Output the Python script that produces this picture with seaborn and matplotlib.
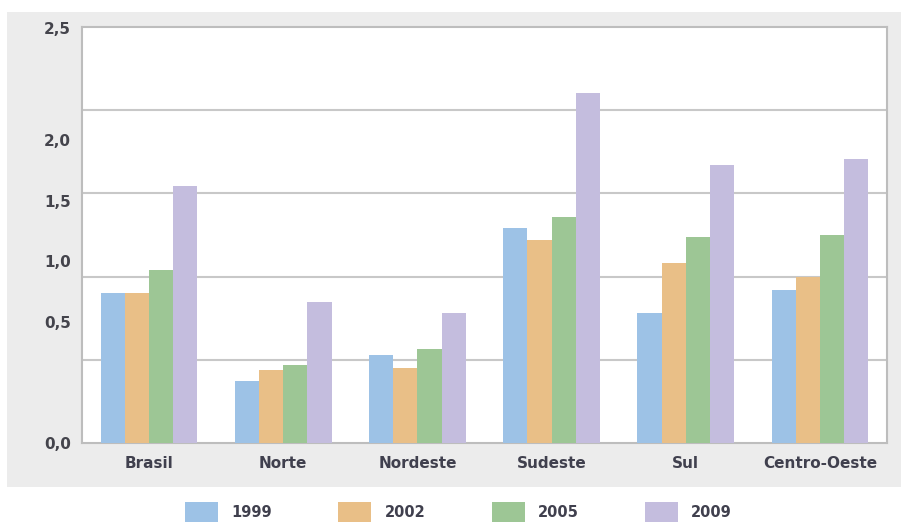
import matplotlib
matplotlib.use("Agg")
import matplotlib.pyplot as plt
from matplotlib.patches import Rectangle
import seaborn as sns
import pandas as pd

regions = ["Brasil", "Norte", "Nordeste", "Sudeste", "Sul", "Centro-Oeste"]
years = ["1999", "2002", "2005", "2009"]
v1999 = [0.90, 0.37, 0.53, 1.29, 0.78, 0.92]
v2002 = [0.90, 0.44, 0.45, 1.22, 1.08, 1.00]
v2005 = [1.04, 0.47, 0.565, 1.36, 1.24, 1.25]
v2009 = [1.545, 0.85, 0.78, 2.105, 1.67, 1.705]
ytick_labels = ["0,0", "0,5", "1,0", "1,5", "2,0", "2,5"]
ytick_pos = [0.0, 0.727, 1.094, 1.454, 1.821, 2.494]
grid_levels = [0.5, 1.0, 1.5, 2.0]
colors = ["#9dc2e6", "#e9bf87", "#9dc695", "#c4bdde"]

rows = []
for y, vals in zip(years, [v1999, v2002, v2005, v2009]):
    for r, v in zip(regions, vals):
        rows.append({"Região": r, "Ano": y, "valor": v})
df = pd.DataFrame(rows)

sns.set_theme(style="white")
plt.rcParams["font.family"] = ["DejaVu Sans"]

fig = plt.figure(figsize=(9.01, 5.25), dpi=100)
fig.patch.set_facecolor("white")
bg = Rectangle((7 / 901, 38 / 525), 1 - 7 / 901, (487 - 12) / 525,
               transform=fig.transFigure, facecolor="#ececec",
               edgecolor="none", zorder=-10)
fig.add_artist(bg)
ax = fig.add_axes([82 / 901, 82 / 525, 805 / 901, 416 / 525])
ax.set_zorder(1)
ax.set_facecolor("white")

sns.barplot(data=df, x="Região", y="valor", hue="Ano", hue_order=years,
            palette=colors, saturation=1, width=0.72, gap=0, ax=ax,
            linewidth=0, edgecolor="none", zorder=3)

ax.set_ylim(0, 2.5)
ax.set_xlim(-0.5, 5.5)
ax.set_yticks(ytick_pos)
ax.set_yticklabels(ytick_labels)
ax.set_yticks(grid_levels, minor=True)
ax.yaxis.grid(True, which="minor", color="#c8c8c8", linewidth=1.5, zorder=1)
ax.yaxis.grid(False, which="major")
ax.set_axisbelow(True)
ax.tick_params(axis="both", which="both", length=0)
ax.tick_params(axis="y", pad=8, labelsize=11, labelcolor="#44444c")
ax.tick_params(axis="x", pad=9, labelsize=11, labelcolor="#40404e")
for lab in ax.get_xticklabels() + ax.get_yticklabels():
    lab.set_fontweight("bold")
ax.set_xlabel("")
ax.set_ylabel("")
for s in ax.spines.values():
    s.set_color("#bdbdbd")
    s.set_linewidth(1.5)

sns.move_legend(ax, "center", bbox_to_anchor=(0.509, 0.025),
                bbox_transform=fig.transFigure, ncol=4, frameon=False,
                title=None, handlelength=2.26, handleheight=1.8,
                handletextpad=0.9, columnspacing=4.55,
                prop={"size": 10.5, "weight": "bold"})
for t in ax.get_legend().get_texts():
    t.set_color("#40404e")

fig.savefig("out.png", dpi=100)
